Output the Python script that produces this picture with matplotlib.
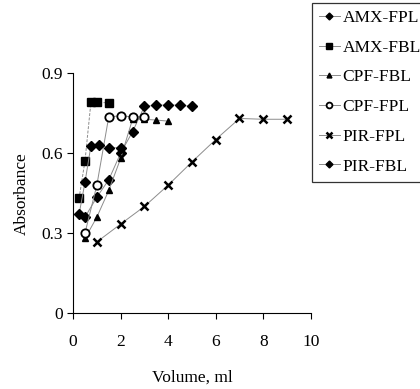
import matplotlib
matplotlib.use("Agg")
import matplotlib.pyplot as plt

plt.rcParams['font.family'] = ['Liberation Serif', 'DejaVu Serif']

# values
amx_fpl_x = [0.5, 1.0, 1.5, 2.0, 2.5, 3.0, 3.5, 4.0, 4.5, 5.0]
amx_fpl_y = [0.36, 0.435, 0.50, 0.60, 0.68, 0.775, 0.78, 0.78, 0.78, 0.775]

amx_fbl_x = [0.25, 0.5, 0.75, 1.0, 1.5]
amx_fbl_y = [0.43, 0.57, 0.79, 0.79, 0.789]

cpf_fbl_x = [0.5, 1.0, 1.5, 2.0, 2.5, 3.0, 3.5, 4.0]
cpf_fbl_y = [0.28, 0.36, 0.46, 0.58, 0.727, 0.727, 0.724, 0.72]

cpf_fpl_x = [0.5, 1.0, 1.5, 2.0, 2.5, 3.0]
cpf_fpl_y = [0.30, 0.48, 0.736, 0.74, 0.736, 0.736]

pir_fpl_x = [1.0, 2.0, 3.0, 4.0, 5.0, 6.0, 7.0, 8.0, 9.0]
pir_fpl_y = [0.267, 0.334, 0.40, 0.48, 0.567, 0.651, 0.73, 0.727, 0.727]

pir_fbl_x = [0.25, 0.5, 0.75, 1.1, 1.5, 2.0]
pir_fbl_y = [0.37, 0.49, 0.627, 0.63, 0.62, 0.62]

fig = plt.figure(figsize=(4.2, 3.89), dpi=100)
ax = fig.add_axes([0.174, 0.195, 0.566, 0.617])

lc = '#8c8c8c'
lw = 0.7
ax.plot(amx_fpl_x, amx_fpl_y, color=lc, lw=lw, marker='D', ms=5, mfc='black', mec='black', label='AMX-FPL')
ax.plot(amx_fbl_x, amx_fbl_y, color=lc, lw=lw, ls=(0, (3, 1.5)), marker='s', ms=6, mfc='black', mec='black', label='AMX-FBL')
ax.plot(cpf_fbl_x, cpf_fbl_y, color=lc, lw=lw, marker='^', ms=5, mfc='black', mec='black', label='CPF-FBL')
ax.plot(cpf_fpl_x, cpf_fpl_y, color=lc, lw=lw, marker='o', ms=6, mfc='white', mec='black', mew=1.3, label='CPF-FPL')
ax.plot(pir_fpl_x, pir_fpl_y, color=lc, lw=lw, marker='x', ms=6, mec='black', mew=1.8, label='PIR-FPL')
ax.plot(pir_fbl_x, pir_fbl_y, color=lc, lw=lw, marker='D', ms=5, mfc='black', mec='black', label='PIR-FBL')

ax.set_xlim(0, 10)
ax.set_ylim(0, 0.9)
ax.set_xticks([0, 2, 4, 6, 8, 10])
ax.set_yticks([0, 0.3, 0.6, 0.9])
ax.set_yticklabels(['0', '0.3', '0.6', '0.9'])
ax.spines['top'].set_visible(False)
ax.spines['right'].set_visible(False)
ax.tick_params(direction='out', length=4, labelsize=12.5, pad=11)
ax.tick_params(axis='y', pad=3)
ax.set_xlabel('Volume, ml', fontsize=12.5, labelpad=14)
ax.set_ylabel('Absorbance', fontsize=12.5, labelpad=9)

leg = fig.legend(loc='upper left', bbox_to_anchor=(312 / 420, 1 - 3 / 389),
                 fontsize=12.5, frameon=True, fancybox=False, borderpad=0.4,
                 labelspacing=0.78, handlelength=1.2, handletextpad=0.15,
                 markerscale=0.7, borderaxespad=0)
leg.get_frame().set_edgecolor('black')
leg.get_frame().set_linewidth(0.9)
for line in leg.get_lines():
    line.set_linestyle('-')

plt.savefig('out.png', dpi=100)
